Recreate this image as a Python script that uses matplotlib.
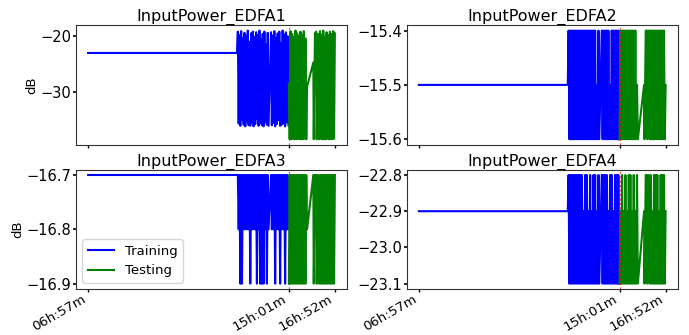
import matplotlib
matplotlib.use("Agg")
import matplotlib.pyplot as plt

# ---- data (time in minutes of day) ----
train_time = [417, 776,
              778, 780, 782, 784, 786, 788, 790, 792, 794, 796, 798, 800, 802, 804, 806, 808, 810, 812,
              814, 816, 818, 820, 822, 824, 826, 828, 830, 832, 834, 836, 838, 840, 842, 844, 846, 848,
              850, 852,
              858, 860, 862, 864, 866, 868, 870, 872, 874, 876, 878, 880, 882, 884, 886, 888, 890, 892,
              894, 896, 898, 900]
test_time = [901, 903, 905, 907, 909, 911, 913, 915, 917, 919, 921, 923, 925, 927, 929, 931, 933, 935,
             937, 939, 941, 943, 945,
             960, 961, 964, 967, 968, 971,
             974, 976, 978, 980, 982, 984, 986, 988, 990, 992, 994, 996, 998, 1000, 1002, 1004, 1006,
             1008, 1010, 1012]

tick_positions = [417, 901, 1012]
tick_labels = ["06h:57m", "15h:01m", "16h:52m"]
split_time = 901

titles = ["InputPower_EDFA1", "InputPower_EDFA2", "InputPower_EDFA3", "InputPower_EDFA4"]

edfa1_train = [-23, -23,
               -19.2, -35.6, -19.8, -36.0, -19.1, -34.9, -20.3, -35.8, -19.4, -36.1, -19.9, -35.2, -19.0,
               -35.9, -21.0, -36.0, -19.5, -35.4, -19.2, -36.1, -20.1, -35.7, -19.3, -34.8, -19.8, -36.0,
               -19.0, -35.5, -20.5, -35.9, -19.6, -36.1, -19.2, -35.3, -21.5, -35.8, -19.4, -36.0,
               -19.3, -35.9, -19.9, -35.5, -19.1, -36.1, -20.4, -35.7, -19.5, -35.0, -19.2, -36.0, -21.2,
               -35.8, -19.0, -35.6, -19.7, -36.1, -19.3, -35.4, -20.0, -35.9]
edfa1_test = [-28.5, -38.4, -19.1, -38.4, -19.6, -38.3, -20.2, -38.4, -19.0, -38.4, -19.5, -38.3, -20.0,
              -38.4, -19.2, -38.4, -19.8, -38.4, -19.1, -38.3, -20.4, -38.4, -29.0,
              -24.7, -38.4, -19.4, -19.2, -38.4, -19.6,
              -38.4, -19.1, -38.3, -19.7, -38.4, -19.0, -38.4, -20.1, -38.4, -19.3, -38.3, -19.8, -38.4,
              -19.2, -38.4, -19.6, -38.4, -19.1, -38.3, -19.5]

edfa2_train = [-15.5, -15.5,
               -15.4, -15.6, -15.4, -15.6, -15.4, -15.6, -15.4, -15.6, -15.4, -15.6,
               -15.4, -15.6, -15.4, -15.6, -15.4, -15.6, -15.4, -15.6, -15.4, -15.6,
               -15.4, -15.6, -15.4, -15.6, -15.4, -15.6, -15.4, -15.6, -15.4, -15.6,
               -15.4, -15.6, -15.4, -15.6, -15.5, -15.6, -15.4, -15.6,
               -15.4, -15.6, -15.4, -15.6, -15.4, -15.6, -15.4, -15.6, -15.4, -15.6, -15.5,
               -15.6, -15.4, -15.6, -15.4, -15.6, -15.4, -15.6, -15.4, -15.6, -15.4, -15.6]
edfa2_test = [-15.6, -15.4, -15.6, -15.4, -15.6, -15.4, -15.6, -15.4, -15.6, -15.4, -15.6, -15.4,
              -15.6, -15.4, -15.6, -15.4, -15.6, -15.4, -15.6, -15.4, -15.6, -15.5, -15.6,
              -15.5, -15.6, -15.4, -15.4, -15.6, -15.4,
              -15.6, -15.4, -15.6, -15.4, -15.6, -15.4, -15.6, -15.4, -15.6, -15.4, -15.6, -15.4,
              -15.6, -15.4, -15.6, -15.4, -15.6, -15.4, -15.6, -15.5]

edfa3_train = [-16.7, -16.7,
               -16.7, -16.8, -16.7, -16.9, -16.7, -16.9, -16.7, -16.8, -16.7, -16.8,
               -16.7, -16.8, -16.7, -16.8, -16.7, -16.9, -16.7, -16.8, -16.7, -16.8,
               -16.7, -16.8, -16.7, -16.9, -16.7, -16.8, -16.7, -16.9, -16.7, -16.9,
               -16.7, -16.9, -16.7, -16.8, -16.7, -16.9, -16.7, -16.8,
               -16.7, -16.8, -16.7, -16.8, -16.7, -16.9, -16.7, -16.8, -16.7, -16.8, -16.7,
               -16.9, -16.7, -16.8, -16.7, -16.8, -16.7, -16.9, -16.7, -16.8, -16.7, -16.8]
edfa3_test = [-16.9, -16.7, -16.9, -16.7, -16.9, -16.7, -16.9, -16.7, -16.9, -16.7, -16.9, -16.7,
              -16.9, -16.7, -16.9, -16.7, -16.9, -16.7, -16.9, -16.7, -16.9, -16.7, -16.8,
              -16.7, -16.9, -16.7, -16.7, -16.9, -16.7,
              -16.9, -16.7, -16.9, -16.7, -16.9, -16.7, -16.9, -16.7, -16.9, -16.7, -16.9, -16.7,
              -16.9, -16.7, -16.9, -16.7, -16.9, -16.7, -16.9, -16.7]

edfa4_train = [-22.9, -22.9,
               -22.8, -23.1, -22.8, -23.1, -22.8, -23.1, -22.8, -23.1, -22.8, -23.1,
               -22.8, -23.1, -22.8, -23.1, -22.8, -23.1, -22.8, -23.1, -22.9, -23.1,
               -22.8, -23.1, -22.8, -23.1, -22.9, -23.1, -22.8, -23.1, -22.9, -23.1,
               -22.8, -23.1, -22.8, -23.1, -22.9, -23.1, -22.8, -23.1,
               -22.8, -23.1, -22.8, -23.1, -22.8, -23.1, -22.8, -23.1, -22.9, -23.1, -22.8,
               -23.1, -22.8, -23.1, -22.9, -23.1, -22.8, -23.1, -22.8, -23.1, -22.8, -23.1]
edfa4_test = [-23.1, -22.9, -23.1, -22.8, -23.1, -22.9, -23.1, -22.8, -23.1, -22.9, -23.1, -22.8,
              -23.1, -22.8, -23.1, -22.9, -23.1, -22.8, -23.1, -22.9, -23.1, -22.8, -23.1,
              -22.9, -23.1, -22.8, -22.8, -23.1, -22.8,
              -23.1, -22.8, -23.1, -22.9, -23.1, -22.8, -23.1, -22.8, -23.1, -22.8, -23.1, -22.9,
              -23.1, -22.8, -23.1, -22.8, -23.1, -22.8, -23.1, -22.9]

train_series = [edfa1_train, edfa2_train, edfa3_train, edfa4_train]
test_series = [edfa1_test, edfa2_test, edfa3_test, edfa4_test]
yticks = [[-20, -30], [-15.4, -15.5, -15.6], [-16.7, -16.8, -16.9], [-22.8, -22.9, -23.0, -23.1]]

# ---- plot ----
fig, axes = plt.subplots(2, 2, figsize=(6.89, 3.35), dpi=100, sharex=True)
fig.subplots_adjust(left=0.110, right=0.984, top=0.925, bottom=0.137, wspace=0.2185, hspace=0.208)

for i, ax in enumerate(axes.flat):
    ax.plot(train_time, train_series[i], color="blue", lw=1.5, label="Training")
    ax.plot(test_time, test_series[i], color="green", lw=1.5, label="Testing")
    ax.axvline(split_time, color="red", ls=(0, (2, 2)), lw=0.8, alpha=0.7)
    ax.set_title(titles[i], fontsize=11.5, pad=2)
    ax.set_yticks(yticks[i])
    if i == 0:
        ax.set_yticklabels(["\u221220", "\u221230"])
    else:
        ax.set_yticklabels(["\u2212%.1f" % abs(v) for v in yticks[i]])
    ax.tick_params(axis="y", labelsize=10.5, width=1.2, length=2, pad=1)
    ax.tick_params(axis="x", labelsize=9.5, width=1.0, length=2, pad=0.5)
    for s in ax.spines.values():
        s.set_color("#333333")
    if i % 2 == 0:
        ax.set_ylabel("dB", fontsize=9.5, labelpad=2)

axes[1, 0].set_xticks(tick_positions)
axes[1, 0].set_xticklabels(tick_labels)
for ax in axes[1]:
    plt.setp(ax.get_xticklabels(), rotation=30, ha="right")

axes[1, 0].legend(loc="lower left", fontsize=9.5)

fig.savefig("out.png", dpi=100)
